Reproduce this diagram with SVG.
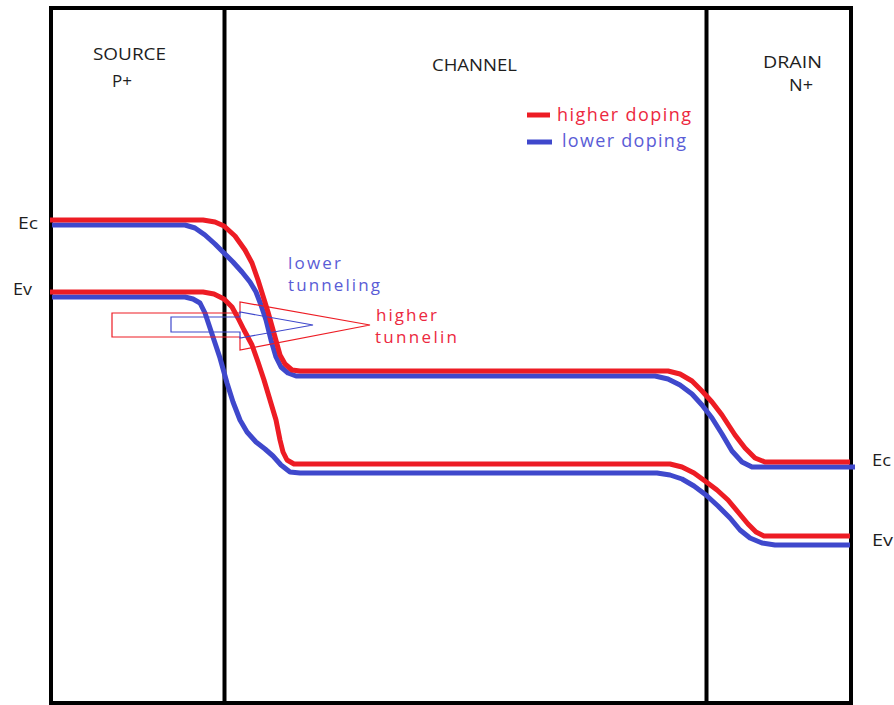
<svg xmlns="http://www.w3.org/2000/svg" width="894" height="705" viewBox="0 0 894 705">
<style>
.frame{fill:none;stroke:#000;stroke-width:4}
.lbl{font-family:"Open Sans","Liberation Sans",sans-serif;font-size:17px;fill:#1e1e1e}
.red{fill:none;stroke:#ed1c24;stroke-width:5;stroke-linejoin:round;stroke-linecap:butt}
.blue{fill:none;stroke:#3f48cc;stroke-width:5;stroke-linejoin:round;stroke-linecap:butt}
.rt{font-family:"Open Sans","Liberation Sans",sans-serif;font-size:18px;fill:#ec2840}
.bt{font-family:"Open Sans","Liberation Sans",sans-serif;font-size:18px;fill:#5a5cd6}
.sm{font-size:17px}
.ra{fill:none;stroke:#ed1c24;stroke-width:1.2}
.ba{fill:none;stroke:#3f48cc;stroke-width:1.2}
</style>
<rect width="894" height="705" fill="#fff"/>
<g id="frame">
<rect class="frame" x="51" y="8" width="800" height="695"/>
<line class="frame" x1="224.5" y1="8" x2="224.5" y2="703"/>
<line class="frame" x1="706.5" y1="8" x2="706.5" y2="703"/>
</g>
<g id="region-labels">
<text class="lbl" x="93" y="60" textLength="73" lengthAdjust="spacingAndGlyphs">SOURCE</text>
<text class="lbl" x="112" y="87" textLength="20" lengthAdjust="spacingAndGlyphs">P+</text>
<text class="lbl" x="432" y="71" textLength="85" lengthAdjust="spacingAndGlyphs">CHANNEL</text>
<text class="lbl" x="763" y="68" textLength="59" lengthAdjust="spacingAndGlyphs">DRAIN</text>
<text class="lbl" x="789" y="91" textLength="24" lengthAdjust="spacingAndGlyphs">N+</text>
<text class="lbl" x="18" y="229" textLength="20" lengthAdjust="spacingAndGlyphs">Ec</text>
<text class="lbl" x="13" y="295" textLength="19" lengthAdjust="spacingAndGlyphs">Ev</text>
<text class="lbl" x="872" y="466" textLength="19" lengthAdjust="spacingAndGlyphs">Ec</text>
<text class="lbl" x="872" y="546" textLength="21" lengthAdjust="spacingAndGlyphs">Ev</text>
</g>
<g id="legend">
<line class="red" x1="527" y1="115" x2="550" y2="115"/>
<text class="rt" x="557" y="121" textLength="134" lengthAdjust="spacing">higher doping</text>
<line class="blue" x1="527" y1="142" x2="552" y2="142"/>
<text class="bt" x="562" y="147" textLength="124" lengthAdjust="spacing">lower doping</text>
</g>
<g id="bands">
<polyline id="ec-low" class="blue" points="52,225 185,225 195,228 205,235 215,244 224,253 233,262 242,272 250,282 256,292 261,305 266,320 271,340 276,357 281,367 288,373 296,376 655,376 668,379 680,385 692,394 702,405 712,418 722,434 732,451 742,462 752,467 855,467"/>
<polyline id="ev-low" class="blue" points="52,297 185,297 193,299 200,303 205,313 210,328 215,343 220,358 227,383 233,402 240,420 247,432 256,442 265,449 273,456 281,465 290,472 300,473 657,473 670,475 682,479 694,486 706,495 718,506 730,518 740,530 750,538 762,543 775,545 850,545"/>
<polyline id="ec-high" class="red" points="50,220 203,220 215,222 224,226 235,236 245,250 252,263 258,280 263,296 268,312 275,337 280,355 285,364 292,370 300,371 668,371 680,374 692,381 702,391 712,402 722,415 735,435 745,448 755,458 765,462 850,462"/>
<polyline id="ev-high" class="red" points="50,292 203,292 214,294 224,299 232,307 238,318 244,330 252,345 258,362 264,380 270,400 276,420 280,440 283,452 287,460 294,464 670,464 682,467 694,473 705,481 717,490 728,500 738,512 748,524 756,532 764,536 850,536"/>
</g>
<g id="tunneling-arrows">
<polygon id="arrow-high" class="ra" points="112,313 240,313 240,302 370,325 240,350 240,337 112,337"/>
<polygon id="arrow-low" class="ba" points="171,317 240,317 240,312 313,325 240,338 240,332 171,332"/>
</g>
<g id="tunneling-labels">
<text class="bt sm" x="288" y="269" textLength="53" lengthAdjust="spacing">lower</text>
<text class="bt sm" x="288" y="291" textLength="92" lengthAdjust="spacing">tunneling</text>
<text class="rt sm" x="376" y="321" textLength="61" lengthAdjust="spacing">higher</text>
<text class="rt sm" x="375" y="343" textLength="82" lengthAdjust="spacing">tunnelin</text>
</g>
</svg>
